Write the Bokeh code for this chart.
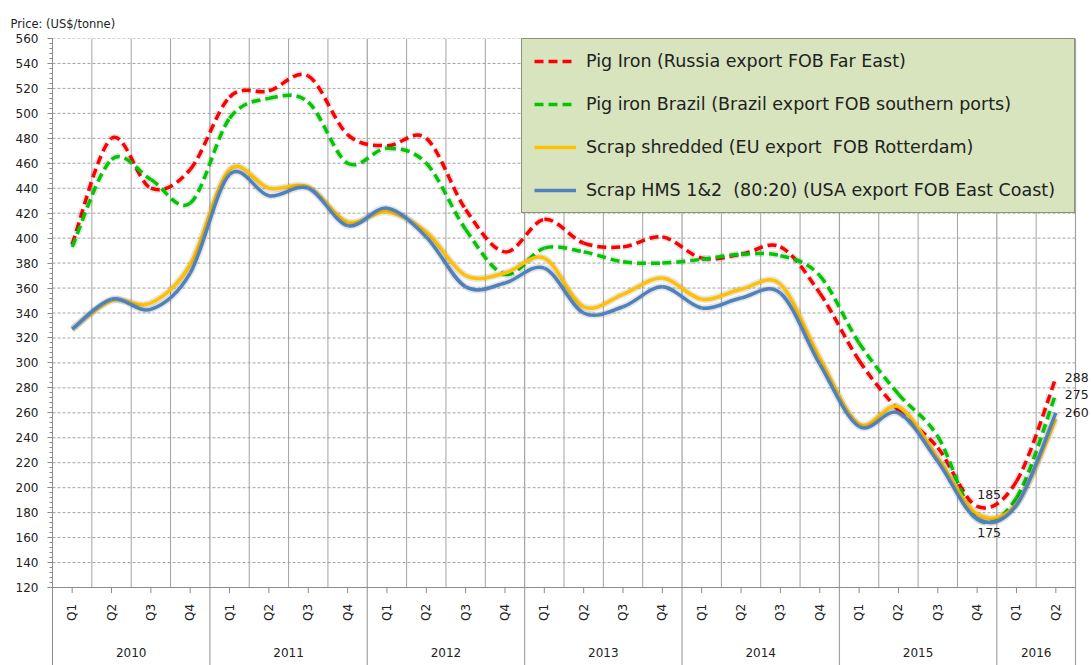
from math import pi
from bokeh.plotting import figure
from bokeh.models import Range1d, FixedTicker, Legend, LegendItem, ColumnDataSource
from bokeh.core.properties import value
from bokeh.embed import file_html
from bokeh.resources import INLINE

# ---------------- data ----------------
years = ["2010", "2011", "2012", "2013", "2014", "2015", "2016"]
quarters_in_year = [4, 4, 4, 4, 4, 4, 2]
quarter_names = ["Q1", "Q2", "Q3", "Q4"]

pig_iron_russia = [395, 480, 440, 455, 513, 518, 530, 483, 474, 480, 423, 389, 415,
                   396, 393, 401, 384, 387, 393, 356, 302, 262, 232, 185, 205, 288]
pig_iron_brazil = [393, 463, 447, 428, 496, 512, 509, 460, 472, 460, 407, 371, 392,
                   389, 381, 380, 383, 387, 386, 370, 316, 275, 241, 175, 192, 275]
scrap_shredded_eu = [327, 350, 348, 379, 455, 440, 441, 413, 421, 405, 370, 372, 384,
                     345, 355, 368, 351, 359, 363, 304, 251, 265, 224, 179, 187, 255]
scrap_hms_usa = [327, 351, 343, 372, 451, 434, 440, 410, 424, 401, 361, 364, 376,
                 340, 345, 361, 344, 352, 356, 299, 249, 260, 221, 175, 186, 260]

series_names = ["Pig Iron (Russia export FOB Far East)",
                "Pig iron Brazil (Brazil export FOB southern ports)",
                "Scrap shredded (EU export  FOB Rotterdam)",
                "Scrap HMS 1&2  (80:20) (USA export FOB East Coast)"]
y_ticks = list(range(120, 561, 20))
y_minor_ticks = list(range(120, 561, 4))
axis_title = "Price: (US$/tonne)"

# ---------------- derived ----------------
quarter_labels = [q for k in quarters_in_year for q in quarter_names[:k]]
n = len(quarter_labels)
centers = [i + 0.5 for i in range(n)]
year_bounds = [0]
for k in quarters_in_year:
    year_bounds.append(year_bounds[-1] + k)
year_centers = [(a + b) / 2 for a, b in zip(year_bounds[:-1], year_bounds[1:])]
inner_bounds = [b for b in range(1, n) if b not in year_bounds]

FONT = "DejaVu Sans"
TXT = "#222222"
GRID = "#a3a3a3"
AXC = "#8c8c8c"

W, H = 1091, 665
LEFT, TOP = 52, 38
frame_w, frame_h = W - LEFT, H - TOP
px_per_x = 1023 / n            # category axis spans 1023 px
px_per_y = 549 / (y_ticks[-1] - y_ticks[0])
Y0, Y1 = y_ticks[0], y_ticks[-1]
x_end = frame_w / px_per_x
y_bottom = Y1 - frame_h / px_per_y

p = figure(width=W, height=H,
           x_range=Range1d(0, x_end), y_range=Range1d(y_bottom, Y1),
           output_backend="svg", toolbar_location=None, x_axis_location=None,
           min_border_left=LEFT, min_border_right=0, min_border_top=TOP,
           min_border_bottom=0, title=axis_title)
p.outline_line_color = None
p.background_fill_color = "white"
p.border_fill_color = "white"

p.title.text_font = FONT
p.title.text_font_size = "11.5px"
p.title.text_font_style = "normal"
p.title.text_color = TXT
p.title.align = "left"
p.title.offset = -42
p.title.standoff = 16

p.xgrid.visible = False
p.ygrid.visible = False

ax = p.yaxis[0]
ax.ticker = FixedTicker(ticks=y_ticks, minor_ticks=y_minor_ticks)
ax.axis_line_color = AXC
ax.major_tick_line_color = AXC
ax.minor_tick_line_color = AXC
ax.major_tick_out = 5
ax.major_tick_in = 0
ax.minor_tick_out = 3
ax.minor_tick_in = 0
ax.major_label_standoff = 9
ax.major_label_text_font = FONT
ax.major_label_text_font_size = "12px"
ax.major_label_text_color = TXT

# horizontal dashed grid
p.segment(x0=0, y0=y_ticks[1:], x1=n, y1=y_ticks[1:], line_color=GRID,
          line_width=1, line_dash="3 2")
# vertical grid / separators
p.segment(x0=inner_bounds, y0=Y0, x1=inner_bounds, y1=Y1, line_color=GRID, line_width=1)
p.segment(x0=year_bounds[1:], y0=y_bottom, x1=year_bounds[1:], y1=Y1,
          line_color=GRID, line_width=1.2)
# category axis line and quarter ticks
p.segment(x0=[0], y0=[Y0], x1=[n], y1=[Y0], line_color=AXC, line_width=1.2)
p.segment(x0=centers, y0=Y0, x1=centers, y1=Y0 - 4.5, line_color=AXC, line_width=1)

p.text(x=centers, y=[100] * n, text=quarter_labels, angle=pi / 2,
       text_align="center", text_baseline="middle", text_font=value(FONT),
       text_font_size="12px", text_color=TXT)
p.text(x=year_centers, y=[68] * len(years), text=years,
       text_align="center", text_baseline="middle", text_font=value(FONT),
       text_font_size="12px", text_color=TXT)


def smooth_segments(vals):
    d = dict(x0=[], y0=[], x1=[], y1=[], cx0=[], cy0=[], cx1=[], cy1=[])
    m = len(vals)
    for i in range(m - 1):
        xa, xb = centers[i], centers[i + 1]
        ya, yb = vals[i], vals[i + 1]
        pi_ = i - 1 if i > 0 else i
        ni_ = i + 2 if i + 2 < m else i + 1
        d["x0"].append(xa); d["y0"].append(ya)
        d["x1"].append(xb); d["y1"].append(yb)
        d["cx0"].append(xa + (centers[i + 1] - centers[pi_]) / 6)
        d["cy0"].append(ya + (vals[i + 1] - vals[pi_]) / 6)
        d["cx1"].append(xb - (centers[ni_] - centers[i]) / 6)
        d["cy1"].append(yb - (vals[ni_] - vals[i]) / 6)
    return d


styles = [("#ff0000", "9 5"), ("#00c800", "9 5"), ("#ffc000", "solid"), ("#4f81bd", "solid")]
all_series = [pig_iron_russia, pig_iron_brazil, scrap_shredded_eu, scrap_hms_usa]
renderers = []
for vals, (color, dash) in zip(all_series, styles):
    src = ColumnDataSource(smooth_segments(vals))
    kw = dict(x0="x0", y0="y0", x1="x1", y1="y1", cx0="cx0", cy0="cy0",
              cx1="cx1", cy1="cy1", source=src)
    p.bezier(line_color="black", line_alpha=0.1, line_width=7, line_dash=dash, **kw)
    r = p.bezier(line_color=color, line_width=3.5, line_dash=dash, **kw)
    renderers.append(r)

legend = Legend(items=[LegendItem(label=nm, renderers=[r]) for nm, r in zip(series_names, renderers)],
                location=(469, 452))
legend.label_text_font = FONT
legend.label_text_font_size = "17.5px"
legend.label_text_color = TXT
legend.glyph_width = 42
legend.glyph_height = 20
legend.label_height = 20
legend.label_width = 476
legend.label_standoff = 10
legend.spacing = 23
legend.padding = 12
legend.margin = 0
legend.border_line_color = "#404040"
legend.border_line_width = 1
legend.background_fill_color = "#d7e4bd"
legend.background_fill_alpha = 1
p.add_layout(legend)

# value labels
last_vals = [pig_iron_russia[-1], pig_iron_brazil[-1], scrap_hms_usa[-1]]
p.text(x=[centers[-1]] * 3, y=last_vals, text=[str(v) for v in last_vals],
       x_offset=9, text_align="left", text_baseline="middle", text_font=value(FONT),
       text_font_size="12.5px", text_color=TXT)
i_r = pig_iron_russia.index(min(pig_iron_russia))
i_b = scrap_hms_usa.index(min(scrap_hms_usa))
p.text(x=[centers[i_r]], y=[pig_iron_russia[i_r]], text=[str(pig_iron_russia[i_r])],
       x_offset=12, y_offset=-12, text_align="center", text_baseline="middle",
       text_font=value(FONT), text_font_size="12.5px", text_color=TXT)
p.text(x=[centers[i_b]], y=[scrap_hms_usa[i_b]], text=[str(scrap_hms_usa[i_b])],
       x_offset=12, y_offset=14, text_align="center", text_baseline="middle",
       text_font=value(FONT), text_font_size="12.5px", text_color=TXT)

open("out.html", "w").write(file_html(p, INLINE))
